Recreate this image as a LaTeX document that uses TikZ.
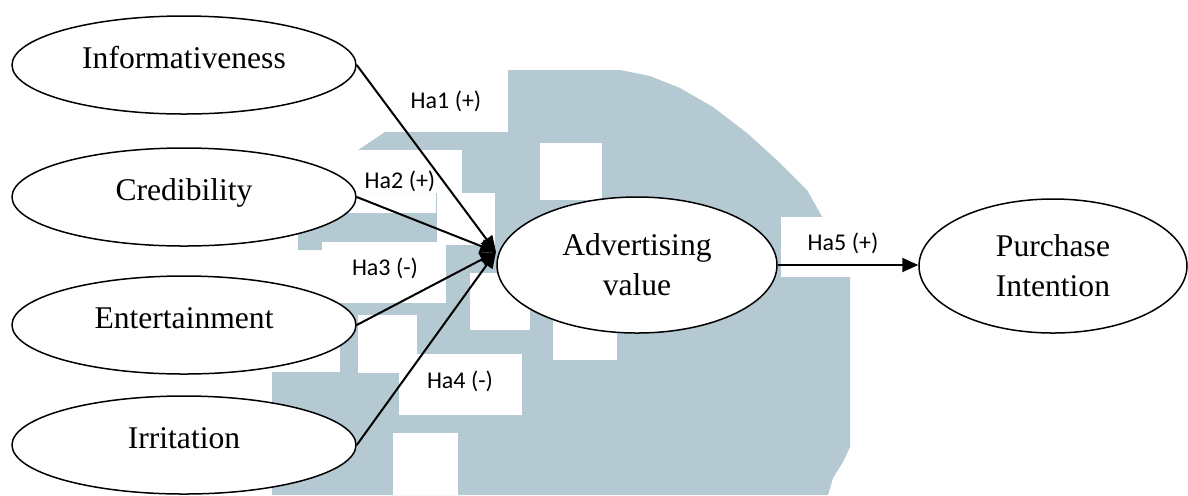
\documentclass[tikz,border=0pt]{standalone}
\usepackage{fontspec}
\setmainfont{Liberation Serif}
\newfontfamily\lblfont{Carlito}
\usetikzlibrary{shapes.geometric,arrows.meta}
\definecolor{wmc}{RGB}{180,201,209}
\begin{document}
\begin{tikzpicture}[x=0.5pt,y=-0.5pt,
  wm/.style={fill=wmc,draw=none},
  hole/.style={fill=white,draw=none},
  lblbox/.style={fill=white,draw=none},
  construct/.style={ellipse,draw,line width=0.75pt,fill=white,inner sep=0pt,
     align=center,font=\fontsize{15.8}{20}\selectfont},
  single/.style={text height=11pt,text depth=8pt},
  hyp/.style={anchor=base,inner sep=0pt,font=\lblfont\fontsize{12}{14}\selectfont},
  link/.style={line width=1pt,-{Triangle[length=8pt,width=7pt]}}]
\useasboundingbox (0,0) rectangle (1188,495);
% watermark
\fill[wm] (508,70) -- (620,70) -- (650,76) -- (680,88) -- (713,107) -- (747,133)
  -- (780,163) -- (807,190) -- (820,213) -- (835,240) -- (850,277) -- (850,447)
  -- (843,462) -- (833,478) -- (828,495) -- (272,495) -- (272,372) -- (340,372)
  -- (340,303) -- (322,303) -- (322,250) -- (298,250) -- (298,213) -- (436,213)
  -- (436,193) -- (358,193) -- (358,150) -- (385,132) -- (385,70) -- cycle;
\fill[hole] (540,143) rectangle (602,200);
\fill[hole] (437,193) rectangle (495,245);
\fill[hole] (358,315) rectangle (417,373);
\fill[hole] (470,273) rectangle (530,330);
\fill[hole] (553,300) rectangle (617,360);
\fill[hole] (393,433) rectangle (458,495);
% label boxes
\fill[lblbox] (385,70) rectangle (508,132);
\fill[lblbox] (358,150) rectangle (462,193);
\fill[lblbox] (322,242) rectangle (446,303);
\fill[lblbox] (399,354) rectangle (522,415);
\fill[lblbox] (781,217) rectangle (904,277);
% constructs
\node[construct,single,minimum width=172pt,minimum height=49pt] (inf) at (184,65) {Informativeness};
\node[construct,single,minimum width=172pt,minimum height=49pt] (cre) at (184,197) {Credibility};
\node[construct,single,minimum width=172pt,minimum height=49pt] (ent) at (184,325) {Entertainment};
\node[construct,single,minimum width=172pt,minimum height=49pt] (irr) at (184,445) {Irritation};
\node[construct,minimum width=140pt,minimum height=68pt] (adv) at (637,265) {Advertising\\value};
\node[construct,minimum width=134pt,minimum height=67pt] (pur) at (1053,266) {Purchase\\Intention};
\coordinate (conv) at (496,252);
% connectors
\draw[link] (inf.east) -- (conv);
\draw[link] (cre.east) -- (conv);
\draw[link] (ent.east) -- (conv);
\draw[link] (irr.east) -- (conv);
\draw[link] (adv.east) -- (adv.east -| pur.west);
% labels
\node[hyp] (h1) at (446,108) {Ha1 (+)};
\node[hyp] (h2) at (400,188) {Ha2 (+)};
\node[hyp] (h3) at (385,275) {Ha3 (-)};
\node[hyp] (h4) at (460,388) {Ha4 (-)};
\node[hyp] (h5) at (843,250) {Ha5 (+)};
\end{tikzpicture}
\end{document}
